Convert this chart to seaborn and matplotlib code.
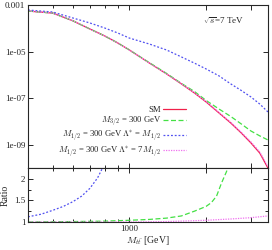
import numpy as np
import pandas as pd
import seaborn as sns
import matplotlib.pyplot as plt
from matplotlib.ticker import FixedLocator, NullLocator

# invariant mass grid (GeV) for the top panel
mass = [400, 500, 600, 700, 800, 900, 1000, 1200, 1400, 1600, 1800,
        2000, 2250, 2500, 2750, 3000, 3250, 3500]
sm = [5.5e-4, 4.5e-4, 2.1e-4, 9.3e-5, 4.7e-5, 2.35e-5, 1.17e-5, 3.2e-6,
      1.1e-6, 4.1e-7, 1.67e-7, 6.9e-8, 2.3e-8, 8.6e-9, 3.2e-9, 1.2e-9,
      4.4e-10, 1.0e-10]
grav = [5.5e-4, 4.5e-4, 2.1e-4, 9.3e-5, 4.7e-5, 2.35e-5, 1.18e-5, 3.3e-6,
        1.15e-6, 4.3e-7, 1.94e-7, 8.0e-8, 3.4e-8, 1.64e-8, 7.8e-9, 3.9e-9,
        2.4e-9, 1.6e-9]
lam_m12 = [6.1e-4, 5.0e-4, 2.77e-4, 1.69e-4, 1.03e-4, 6.3e-5, 3.8e-5, 2.1e-5,
           1.17e-5, 5.9e-6, 3.2e-6, 1.8e-6, 9.0e-7, 4.1e-7, 2.14e-7, 1.13e-7,
           5.6e-8, 2.56e-8]
lam_7m12 = [5.5e-4, 4.5e-4, 2.1e-4, 9.3e-5, 4.7e-5, 2.35e-5, 1.17e-5, 3.2e-6,
            1.11e-6, 4.15e-7, 1.71e-7, 7.2e-8, 2.42e-8, 9.2e-9, 3.4e-9, 1.32e-9,
            4.9e-10, 1.14e-10]

# ratio panel
mass_r_blue = [400, 450, 500, 550, 600, 650, 700, 750, 800]
ratio_blue = [1.12, 1.18, 1.27, 1.36, 1.47, 1.6, 1.78, 2.02, 2.35]
mass_r_green = [400, 600, 800, 1000, 1200, 1400, 1600, 1800, 2000, 2100,
                2200, 2300, 2400, 2500]
ratio_green = [1.0, 1.01, 1.02, 1.04, 1.06, 1.09, 1.14, 1.25, 1.36, 1.45,
               1.6, 1.9, 2.15, 2.4]
mass_r_mag = [400, 1000, 1400, 1800, 2000, 2500, 3000, 3500]
ratio_mag = [1.0, 1.0, 1.01, 1.03, 1.04, 1.07, 1.1, 1.14]

labels = ['SM', r'$M_{3/2}$ = 300 GeV',
          r'$M_{1/2}$ = 300 GeV $\Lambda^{*}$ = $M_{1/2}$',
          r'$M_{1/2}$ = 300 GeV $\Lambda^{*}$ = 7$M_{1/2}$']
colors = ['#f0204a', '#44e044', '#5050f0', '#f070f0']
styles = ['-', (0, (4, 2)), (0, (1.5, 1.5)), (0, (1, 1))]

sns.set_style('ticks')
plt.rcParams['font.family'] = ['Liberation Serif', 'DejaVu Serif']
plt.rcParams['mathtext.fontset'] = 'cm'
plt.rcParams['font.size'] = 6.5

fig = plt.figure(figsize=(2.72, 2.5), dpi=100)
ax1 = fig.add_axes([0.103, 0.328, 0.882, 0.652])
ax2 = fig.add_axes([0.103, 0.112, 0.882, 0.216])

top = pd.DataFrame({'mass': mass, 'sm': sm, 'grav': grav,
                    'lam_m12': lam_m12, 'lam_7m12': lam_7m12})
for col, lab, c, ls in zip(['sm', 'grav', 'lam_m12', 'lam_7m12'], labels, colors, styles):
    sns.lineplot(data=top, x='mass', y=col, ax=ax1, color=c, linestyle=ls,
                 linewidth=0.9, label=lab)

sns.lineplot(x=mass_r_green, y=ratio_green, ax=ax2, color=colors[1], linestyle=styles[1], linewidth=0.9)
sns.lineplot(x=mass_r_blue, y=ratio_blue, ax=ax2, color=colors[2], linestyle=styles[2], linewidth=0.9)
sns.lineplot(x=mass_r_mag, y=ratio_mag, ax=ax2, color=colors[3], linestyle=styles[3], linewidth=0.9)

for ax in (ax1, ax2):
    ax.set_xscale('log')
    ax.set_xlim(400, 3500)
    ax.xaxis.set_major_locator(FixedLocator([1000, 2000, 3000]))
    ax.xaxis.set_minor_locator(FixedLocator([500, 600, 700, 800, 900]))
    ax.tick_params(which='both', direction='in', top=True, right=True,
                   width=0.7, labelsize=6.5, pad=2)
    ax.tick_params(which='major', length=3.5)
    ax.tick_params(which='minor', length=2)
    for s in ax.spines.values():
        s.set_linewidth(0.8)

ax1.set_yscale('log')
ax1.set_ylim(1e-10, 1e-3)
ax1.set_yticks([1e-3, 1e-5, 1e-7, 1e-9], ['0.001', '1e-05', '1e-07', '1e-09'])
ax1.yaxis.set_minor_locator(NullLocator())
ax1.set_xticks([1000, 2000, 3000], ['', '', ''])
ax1.xaxis.set_minor_formatter(plt.NullFormatter())
ax1.set_xlabel('')
ax1.set_ylabel('')
ax1.text(0.73, 0.885, r'$\sqrt{s}$=7 TeV', transform=ax1.transAxes, fontsize=6.5)
ax1.legend(loc='lower right', bbox_to_anchor=(0.675, 0.025), frameon=False,
           markerfirst=False, handlelength=2.6, labelspacing=0.0, fontsize=6.2,
           borderpad=0, handletextpad=0.25)

ax2.set_ylim(1, 2.25)
ax2.set_yticks([1, 1.5, 2], ['1', '1.5', '2'])
ax2.yaxis.set_minor_locator(FixedLocator([1.25, 1.75]))
ax2.set_xticks([1000, 2000, 3000], ['1000', '', ''])
ax2.xaxis.set_minor_formatter(plt.NullFormatter())
ax2.set_xlabel(r'$M_{t\bar{t}}$ [GeV]', fontsize=7, labelpad=1)
ax2.set_ylabel('Ratio', fontsize=7, labelpad=3)

fig.savefig('out.png', dpi=100)
